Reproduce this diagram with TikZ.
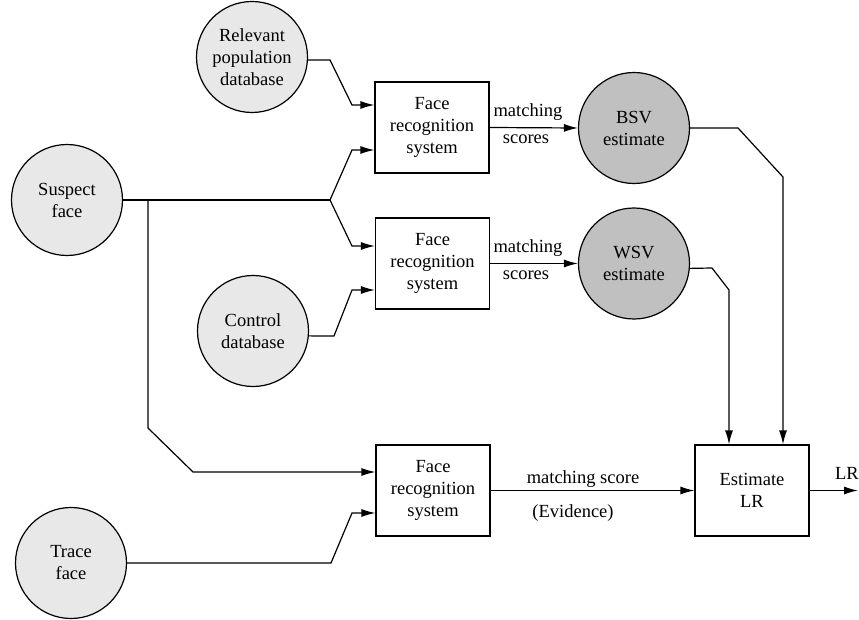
\documentclass[tikz,border=0pt]{standalone}
\usepackage{fontspec}
\setmainfont{Liberation Serif}
\usetikzlibrary{arrows.meta}
\definecolor{lightfill}{RGB}{232,232,232}
\definecolor{darkfill}{RGB}{192,192,192}
\begin{document}
\begin{tikzpicture}[x=1pt,y=-1pt,
  font=\fontsize{18.5}{22}\selectfont,
  every path/.style={line width=1.2pt},
  srcnode/.style={circle,draw,fill=lightfill,minimum size=111pt,inner sep=0pt,align=center},
  estnode/.style={circle,draw,fill=darkfill,minimum size=111pt,inner sep=0pt,align=center},
  procbox/.style={rectangle,draw,minimum width=114pt,minimum height=91pt,inner sep=0pt,align=center},
  arr/.style={-{Latex[length=14pt,width=8pt]}},
  lbl/.style={inner sep=0pt}]
\useasboundingbox (0,0) rectangle (859,620);
% nodes
\node[srcnode] (rel) at (252,57) {Relevant\\population\\database};
\node[srcnode] (sus) at (67,200) {Suspect\\face};
\node[srcnode] (ctl) at (253,331) {Control\\database};
\node[srcnode] (trc) at (71,563) {Trace\\face};
\node[procbox] (f1) at (432,127.5) {Face\\recognition\\system};
\node[procbox] (f2) at (432.5,263.5) {Face\\recognition\\system};
\node[procbox] (f3) at (433,490.5) {Face\\recognition\\system};
\node[procbox] (lr) at (752,490.5) {Estimate\\LR};
\node[estnode] (bsv) at (634,128) {BSV\\estimate};
\node[estnode] (wsv) at (634,263.5) {WSV\\estimate};
\coordinate (j1) at (330,200);
\coordinate (j2) at (148,200);
\coordinate (out) at (858,490.5);
% connectors
\draw[arr] (rel.-3) -- (330,60) -- (352,105) -- (f1.west |- 0,105);
\draw (sus.east) -- (j1);
\draw[arr] (j1) -- (352,150) -- (f1.west |- 0,150);
\draw[arr] (j1) -- (352,246) -- (f2.west |- 0,246);
\draw[arr] (j2) -- (148,428) -- (193,472) -- (f3.west |- 0,472);
\draw[arr] (ctl.-5) -- (334,336) -- (352,290) -- (f2.west |- 0,290);
\draw[arr] (trc.east) -- (331,563) -- (352,513) -- (f3.west |- 0,513);
\draw[arr] (f1.east) -- (bsv.west);
\draw[arr] (f2.east) -- (wsv.west);
\draw[arr] (f3.east) -- (lr.west);
\draw[arr] (bsv.east) -- (738,128) -- (783,177) -- (lr.north -| 783,0);
\draw[arr] (wsv.-5) -- (712,268) -- (729,290) -- (lr.north -| 729,0);
\draw[arr] (lr.east) -- (out);
% labels
\node[lbl] (l1a) at (528,112) {matching};
\node[lbl] (l1b) at (526,139) {scores};
\node[lbl] (l2a) at (528,248) {matching};
\node[lbl] (l2b) at (526,275) {scores};
\node[lbl] (l3a) at (583,479) {matching score};
\node[lbl] (l3b) at (573,513) {(Evidence)};
\node[lbl] (l4) at (847,473) {LR};
\end{tikzpicture}
\end{document}
